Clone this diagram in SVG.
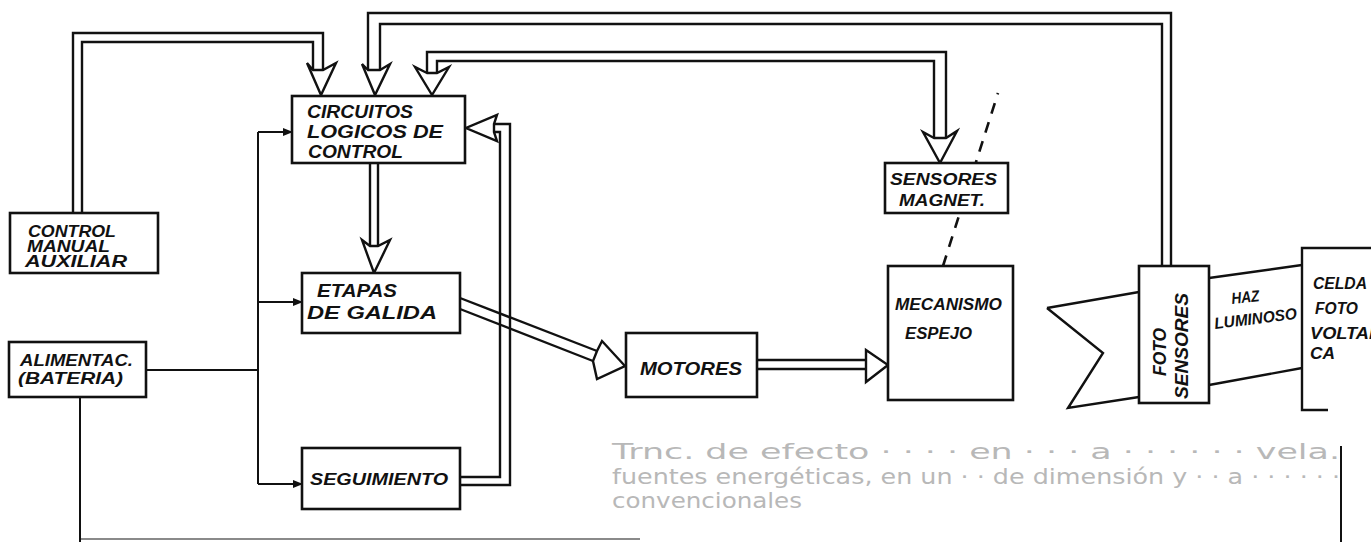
<svg xmlns="http://www.w3.org/2000/svg" width="1371" height="542" viewBox="0 0 1371 542">
<style>
.bg{fill:#ffffff}
.box{fill:#ffffff;stroke:#111;stroke-width:2.6}
.ln{fill:none;stroke:#111;stroke-width:2.4;stroke-linejoin:miter}
.hd{fill:#ffffff;stroke:#111;stroke-width:2.4;stroke-linejoin:miter}
.thin{fill:none;stroke:#111;stroke-width:2}
.dash{fill:none;stroke:#111;stroke-width:2.6;stroke-dasharray:11 9}
.t{font-family:"Liberation Sans",Arial,sans-serif;font-style:italic;font-weight:bold;fill:#111;font-size:16px}
.big{font-size:18px}
.ghost{font-family:"DejaVu Sans","Liberation Sans",sans-serif;fill:#b8b8b8;font-size:21px}
.faint{fill:none;stroke:#8a8a8a;stroke-width:1.8}
</style>
<defs>
<marker id="ar" markerWidth="10" markerHeight="8" refX="9" refY="4" orient="auto" markerUnits="userSpaceOnUse">
<path d="M0,0 L10,4 L0,8 Z" fill="#111"/>
</marker>
</defs>
<rect class="bg" x="0" y="0" width="1371" height="542"/>

<!-- ghost bleed-through text -->
<g id="ghost">
<text class="ghost" x="612" y="459" textLength="728" lengthAdjust="spacingAndGlyphs">Trnc. de efecto · · · ·   en · · ·  a · · · ·   · ·    vela.</text>
<text class="ghost" x="612" y="484" textLength="728" lengthAdjust="spacingAndGlyphs">fuentes energéticas, en un  · · de dimensión y · · a · · · · · ·</text>
<text class="ghost" x="612" y="508" textLength="190" lengthAdjust="spacingAndGlyphs">convencionales</text>
<path class="faint" d="M80,539 H640"/>
<path class="thin" d="M1341,446 V542"/>
</g>

<g id="connectors">
<!-- CONTROL MANUAL -> CIRCUITOS -->
<path class="ln" d="M73,213 V33 H323 V70"/>
<path class="ln" d="M82,213 V42 H313 V70"/>
<polygon class="hd" points="313,70 307,63 321,95 336,63 323,70"/>
<!-- FOTO SENSORES -> CIRCUITOS -->
<path class="ln" d="M1171,266 V13 H368 V70"/>
<path class="ln" d="M1162,266 V24 H380 V70"/>
<polygon class="hd" points="368,70 362,64 375,95 390,64 380,70"/>
<!-- SENSORES MAGNET <-> CIRCUITOS -->
<path class="ln" d="M427,73 V52 H946 V138"/>
<path class="ln" d="M437,73 V61 H934 V138"/>
<polygon class="hd" points="427,73 415,67 432,95 449,67 437,73"/>
<polygon class="hd" points="934,138 923,132 940,163 957,131 946,138"/>
<!-- SEGUIMIENTO -> CIRCUITOS -->
<path class="ln" d="M460,477 H500 V132 H494"/>
<path class="ln" d="M460,485 H510 V124 H494"/>
<polygon class="hd" points="494,132 497,141 466,128 497,115 494,124"/>
<!-- CIRCUITOS -> ETAPAS -->
<path class="ln" d="M370,163 V246"/>
<path class="ln" d="M378,163 V246"/>
<polygon class="hd" points="370,246 362,240 374,273 390,240 378,246"/>
<!-- ETAPAS -> MOTORES -->
<path class="ln" d="M460,298 L597,351"/>
<path class="ln" d="M460,309 L593,361"/>
<polygon class="hd" points="597,351 602,341 625,366 597,379 593,361"/>
<!-- MOTORES -> MECANISMO -->
<path class="ln" d="M757,360 H866"/>
<path class="ln" d="M757,369 H866"/>
<polygon class="hd" points="866,360 866,350 888,365 866,382 866,369"/>
<!-- power distribution -->
<path class="thin" d="M146,370 H258"/>
<path class="thin" d="M258,132 V484"/>
<path class="thin" d="M258,132 H292" marker-end="url(#ar)"/>
<path class="thin" d="M258,302 H302" marker-end="url(#ar)"/>
<path class="thin" d="M258,484 H302" marker-end="url(#ar)"/>
<path class="thin" d="M80,397 V542"/>
<!-- magnetic coupling (dashed) -->
<path class="dash" d="M943,266 L998,93"/>
<!-- light beam -->
<path class="ln" d="M1047,308 L1139,292"/>
<path class="ln" d="M1047,308 L1103,353 L1068,408 L1139,397"/>
<path class="ln" d="M1209,278 L1302,265"/>
<path class="ln" d="M1209,385 L1302,368"/>
</g>

<g id="circuitos">
<rect class="box" x="292" y="96" width="173" height="67"/>
<text class="t big" x="307" y="118" textLength="106" lengthAdjust="spacingAndGlyphs">CIRCUITOS</text>
<text class="t big" x="307" y="138" textLength="136" lengthAdjust="spacingAndGlyphs">LOGICOS DE</text>
<text class="t big" x="308" y="158" textLength="95" lengthAdjust="spacingAndGlyphs">CONTROL</text>
</g>

<g id="control-manual">
<rect class="box" x="10" y="213" width="148" height="60"/>
<text class="t" x="28" y="237" textLength="88" lengthAdjust="spacingAndGlyphs">CONTROL</text>
<text class="t" x="27" y="252" textLength="83" lengthAdjust="spacingAndGlyphs">MANUAL</text>
<text class="t" x="25" y="267" textLength="102" lengthAdjust="spacingAndGlyphs">AUXILIAR</text>
</g>

<g id="etapas">
<rect class="box" x="302" y="273" width="158" height="60"/>
<text class="t big" x="317" y="297" textLength="80" lengthAdjust="spacingAndGlyphs">ETAPAS</text>
<text class="t big" x="307" y="319" textLength="130" lengthAdjust="spacingAndGlyphs">DE GALIDA</text>
</g>

<g id="alimentac">
<rect class="box" x="9" y="342" width="137" height="55"/>
<text class="t" x="20" y="366" textLength="113" lengthAdjust="spacingAndGlyphs">ALIMENTAC.</text>
<text class="t" x="18" y="384" textLength="105" lengthAdjust="spacingAndGlyphs">(BATERIA)</text>
</g>

<g id="seguimiento">
<rect class="box" x="302" y="448" width="158" height="61"/>
<text class="t" x="310" y="485" textLength="138" lengthAdjust="spacingAndGlyphs">SEGUIMIENTO</text>
</g>

<g id="motores">
<rect class="box" x="626" y="333" width="131" height="64"/>
<text class="t big" x="640" y="375" textLength="102" lengthAdjust="spacingAndGlyphs">MOTORES</text>
</g>

<g id="sensores-magnet">
<rect class="box" x="885" y="163" width="123" height="50"/>
<text class="t" x="890" y="185" textLength="107" lengthAdjust="spacingAndGlyphs">SENSORES</text>
<text class="t" x="899" y="206" textLength="86" lengthAdjust="spacingAndGlyphs">MAGNET.</text>
</g>

<g id="mecanismo">
<rect class="box" x="888" y="266" width="125" height="134"/>
<text class="t" x="895" y="310" textLength="107" lengthAdjust="spacingAndGlyphs">MECANISMO</text>
<text class="t" x="905" y="339" textLength="67" lengthAdjust="spacingAndGlyphs">ESPEJO</text>
</g>

<g id="foto-sensores">
<rect class="box" x="1139" y="266" width="70" height="137"/>
<text class="t big" transform="translate(1166,352) rotate(-90)" text-anchor="middle" textLength="48" lengthAdjust="spacingAndGlyphs">FOTO</text>
<text class="t big" transform="translate(1188,346) rotate(-90)" text-anchor="middle" textLength="106" lengthAdjust="spacingAndGlyphs">SENSORES</text>
</g>

<g id="haz-luminoso">
<text class="t" transform="translate(1232,304) rotate(-6)" textLength="28" lengthAdjust="spacingAndGlyphs">HAZ</text>
<text class="t" transform="translate(1215,329) rotate(-7)" textLength="83" lengthAdjust="spacingAndGlyphs">LUMINOSO</text>
</g>

<g id="celda">
<path class="ln" d="M1371,248 H1302 V410 H1328"/>
<text class="t" x="1313" y="289" textLength="54" lengthAdjust="spacingAndGlyphs">CELDA</text>
<text class="t" x="1315" y="314" textLength="43" lengthAdjust="spacingAndGlyphs">FOTO</text>
<text class="t" x="1310" y="339" textLength="64" lengthAdjust="spacingAndGlyphs">VOLTAI</text>
<text class="t" x="1310" y="359" textLength="25" lengthAdjust="spacingAndGlyphs">CA</text>
</g>
</svg>
